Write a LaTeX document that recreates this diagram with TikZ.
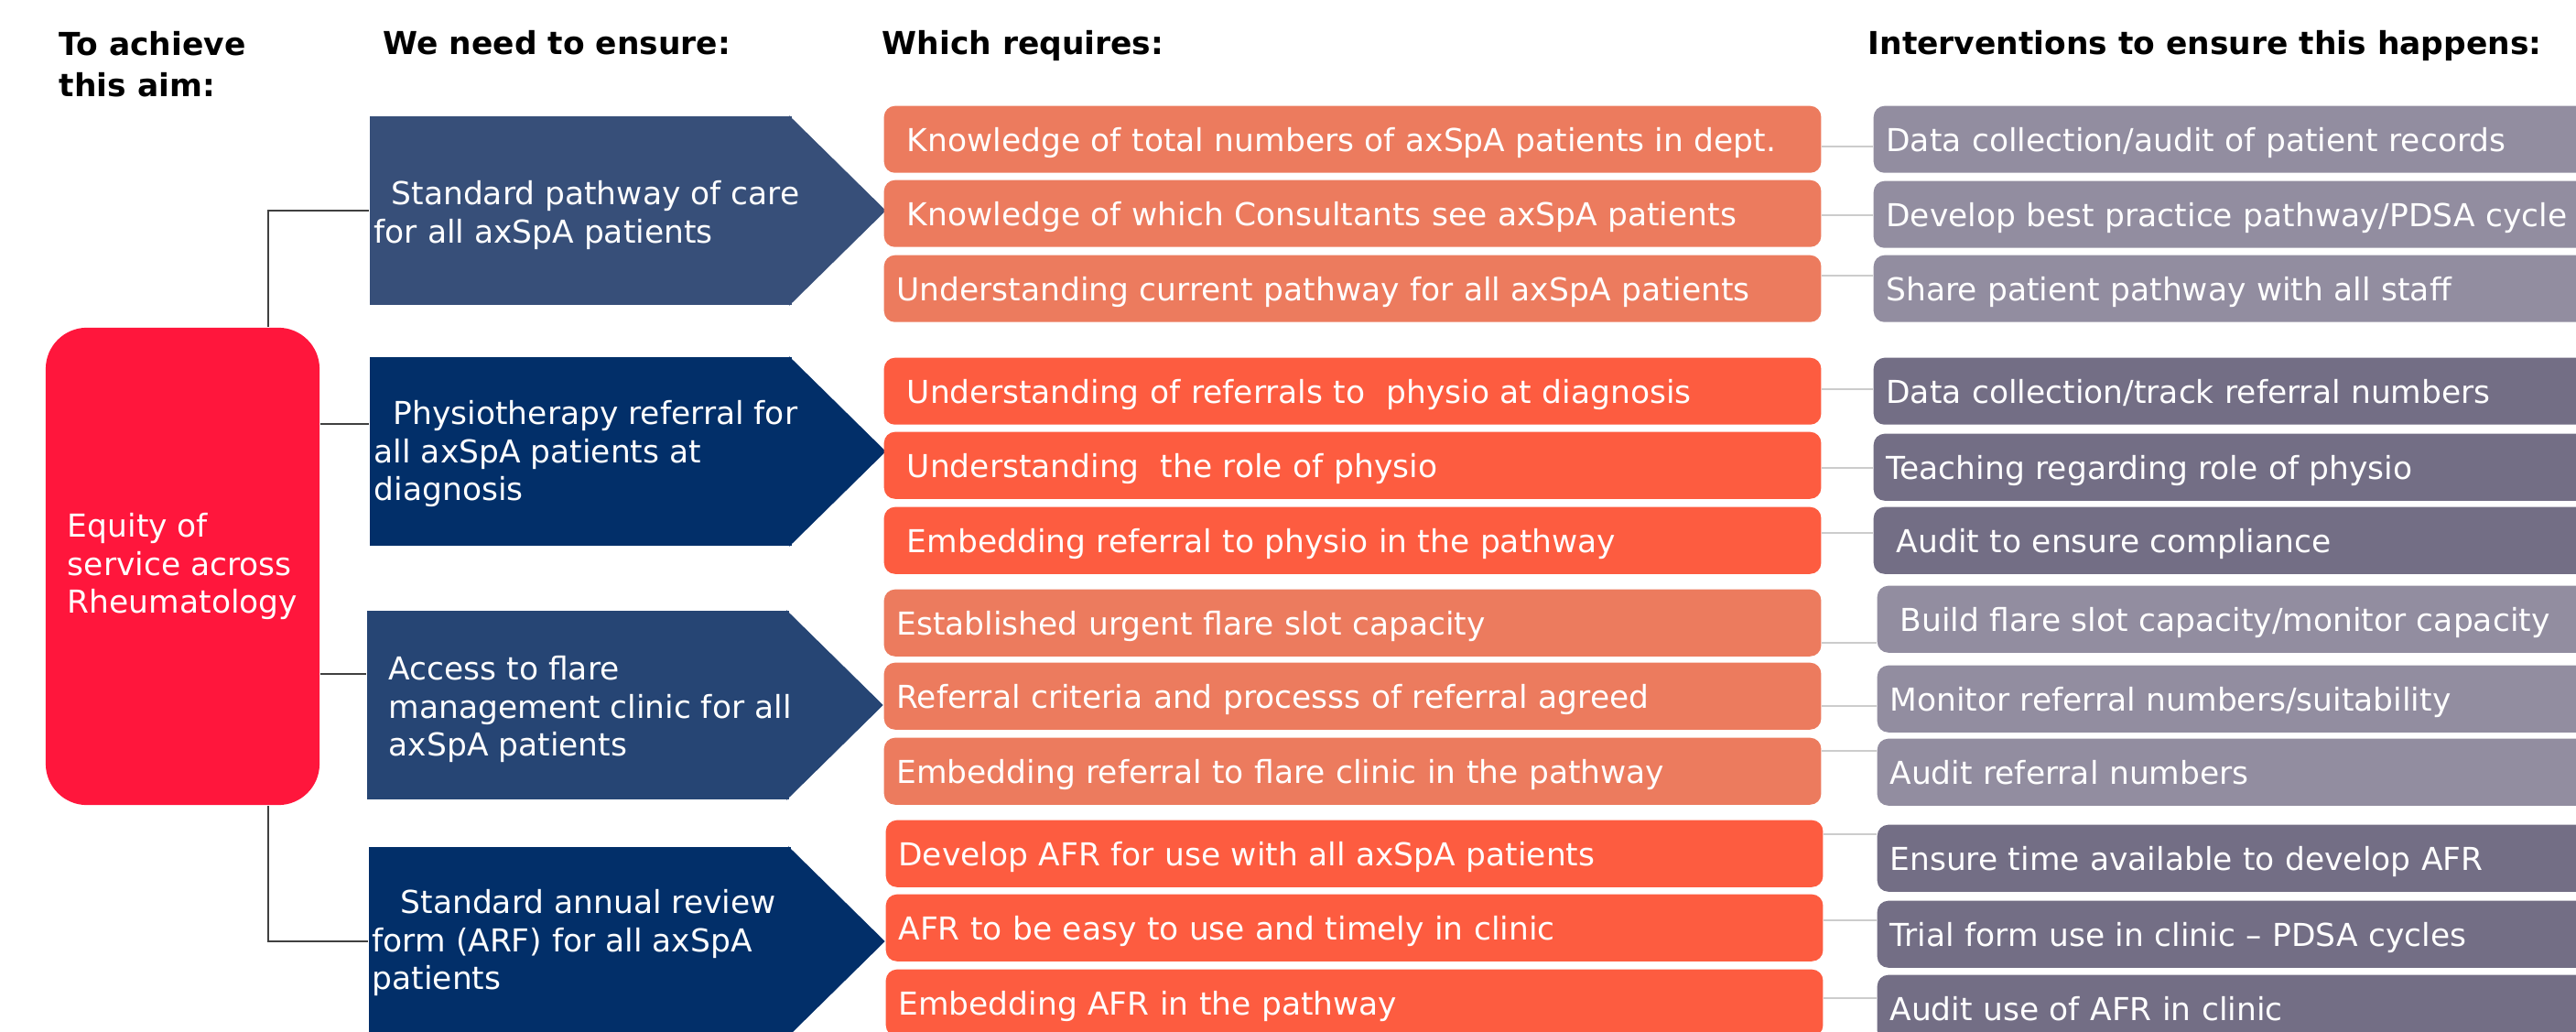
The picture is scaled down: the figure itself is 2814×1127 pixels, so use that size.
\documentclass[tikz,border=0pt]{standalone}
\usepackage{fontspec}
\setmainfont{DejaVu Sans}

\definecolor{aimred}{HTML}{FF163C}
\definecolor{steel}{HTML}{374F79}
\definecolor{navy}{HTML}{022F69}
\definecolor{slate}{HTML}{264574}
\definecolor{salmon}{HTML}{EC7B5E}
\definecolor{coral}{HTML}{FD5C40}
\definecolor{mauve}{HTML}{928DA0}
\definecolor{plum}{HTML}{736E85}

\tikzset{
  head/.style={font=\bfseries\fontsize{9.8pt}{12.8pt}\selectfont, inner sep=0, align=left},
  aim/.style={fill=aimred, rounded corners=12.8pt, minimum width=2.99cm, minimum height=5.21cm,
    text=white, align=left, font=\fontsize{9.8pt}{11.9pt}\selectfont},
  need/.style={fill=#1, inner sep=0, minimum width=4.61cm, minimum height=2.06cm, anchor=west},
  needtext/.style={text=white, font=\fontsize{9.8pt}{11.7pt}\selectfont, inner sep=0,
    align=left, anchor=north west},
  req/.style={fill=#1, rounded corners=3.4pt, minimum width=10.23cm, minimum height=0.73cm,
    inner xsep=3.9pt, inner ysep=0, text width=283.3pt, text height=9.5pt, text depth=1.8pt,
    align=left, anchor=north west, text=white, font=\fontsize{9.8pt}{11.7pt}\selectfont},
  act/.style={req=#1, minimum width=8.1cm, text width=222.7pt},
  link/.style={draw=black!75, line width=0.6pt},
  tie/.style={draw=black!20, line width=0.6pt}
}

\begin{document}
\begin{tikzpicture}[x=0.01cm, y=-0.01cm]
\useasboundingbox (0,0) rectangle (2814,1127);

% column headings
\node [head, anchor=north west] (aimhead) at (64,34) {To achieve\\this aim:};
\node [head, anchor=base west] (needhead) at (418,60) {We need to ensure:};
\node [head, anchor=base west] (reqhead) at (963,60) {Which requires:};
\node [head, anchor=base west] (acthead) at (2040,60) {Interventions to ensure this happens:};

% the aim
\node [aim] (aim) at (199.5,618.5) {Equity of\\service across\\Rheumatology};

% what we need: box plus arrow point
\node [need=steel] (need1) at (403,230) {};
\node [need=navy] (need2) at (403,493) {};
\node [need=slate] (need3) at (400,770) {};
\node [need=navy] (need4) at (402,1028) {};

\fill [steel] ([xshift=-1pt]need1.north east) -- ([xshift=1.02cm]need1.east) -- ([xshift=-1pt]need1.south east) -- cycle;
\fill [navy] ([xshift=-1pt]need2.north east) -- ([xshift=1.02cm]need2.east) -- ([xshift=-1pt]need2.south east) -- cycle;
\fill [slate] ([xshift=-1pt]need3.north east) -- ([xshift=1.02cm]need3.east) -- ([xshift=-1pt]need3.south east) -- cycle;
\fill [navy] ([xshift=-1pt]need4.north east) -- ([xshift=1.02cm]need4.east) -- ([xshift=-1pt]need4.south east) -- cycle;

\node [needtext] (need1t) at (408,197) {\hspace{5.4pt}Standard pathway of care\\for all axSpA patients};
\node [needtext] (need2t) at (408,437) {\hspace{6pt}Physiotherapy referral for\\all axSpA patients at\\diagnosis};
\node [needtext] (need3t) at (424,716) {Access to flare\\management clinic for all\\axSpA patients};
\node [needtext] (need4t) at (406,971) {\hspace{8.8pt}Standard annual review\\form (ARF) for all axSpA\\patients};

\draw [link] (aim.north -| 293,0) |- (need1.west);
\draw [link] (aim.east |- 0,463) -- (need2.west |- 0,463);
\draw [link] (aim.east |- 0,736) -- (need3.west |- 0,736);
\draw [link] (aim.south -| 293,0) |- (need4.west);

% which requires
\node [req=salmon] (req11) at (965,115) {\ Knowledge of total numbers of axSpA patients in dept.};
\node [req=salmon] (req12) at (965,196) {\ Knowledge of which Consultants see axSpA patients};
\node [req=salmon] (req13) at (965,278) {Understanding current pathway for all axSpA patients};

\node [req=coral] (req21) at (965,390) {\ Understanding of referrals to \ physio at diagnosis};
\node [req=coral] (req22) at (965,471) {\ Understanding \ the role of physio};
\node [req=coral] (req23) at (965,553) {\ Embedding referral to physio in the pathway};

\node [req=salmon] (req31) at (965,643) {Established urgent flare slot capacity};
\node [req=salmon] (req32) at (965,723) {Referral criteria and processs of referral agreed};
\node [req=salmon] (req33) at (965,805) {Embedding referral to flare clinic in the pathway};

\node [req=coral] (req41) at (967,895) {Develop AFR for use with all axSpA patients};
\node [req=coral] (req42) at (967,976) {AFR to be easy to use and timely in clinic};
\node [req=coral] (req43) at (967,1058) {Embedding AFR in the pathway};

% interventions
\node [act=mauve] (act11) at (2046,115) {Data collection/audit of patient records};
\node [act=mauve] (act12) at (2046,197) {Develop best practice pathway/PDSA cycle};
\node [act=mauve] (act13) at (2046,278) {Share patient pathway with all staff};

\node [act=plum] (act21) at (2046,390) {Data collection/track referral numbers};
\node [act=plum] (act22) at (2046,473) {Teaching regarding role of physio};
\node [act=plum] (act23) at (2046,553) {\ Audit to ensure compliance};

\node [act=mauve] (act31) at (2050,639) {\ Build flare slot capacity/monitor capacity};
\node [act=mauve] (act32) at (2050,726) {Monitor referral numbers/suitability};
\node [act=mauve] (act33) at (2050,806) {Audit referral numbers};

\node [act=plum] (act41) at (2050,900) {Ensure time available to develop AFR};
\node [act=plum] (act42) at (2050,983) {Trial form use in clinic -- PDSA cycles};
\node [act=plum] (act43) at (2050,1064) {Audit use of AFR in clinic};

\draw [tie] (req11.east |- 0,160) -- (act11.west |- 0,160);
\draw [tie] (req12.east |- 0,235) -- (act12.west |- 0,235);
\draw [tie] (req13.east |- 0,301) -- (act13.west |- 0,301);
\draw [tie] (req21.east |- 0,425) -- (act21.west |- 0,425);
\draw [tie] (req22.east |- 0,511) -- (act22.west |- 0,511);
\draw [tie] (req23.east |- 0,582) -- (act23.west |- 0,582);
\draw [tie] (req31.east |- 0,702) -- (act31.west |- 0,702);
\draw [tie] (req32.east |- 0,771) -- (act32.west |- 0,771);
\draw [tie] (req33.east |- 0,820) -- (act33.west |- 0,820);
\draw [tie] (req41.east |- 0,911) -- (act41.west |- 0,911);
\draw [tie] (req42.east |- 0,1005) -- (act42.west |- 0,1005);
\draw [tie] (req43.east |- 0,1090) -- (act43.west |- 0,1090);
\end{tikzpicture}
\end{document}
